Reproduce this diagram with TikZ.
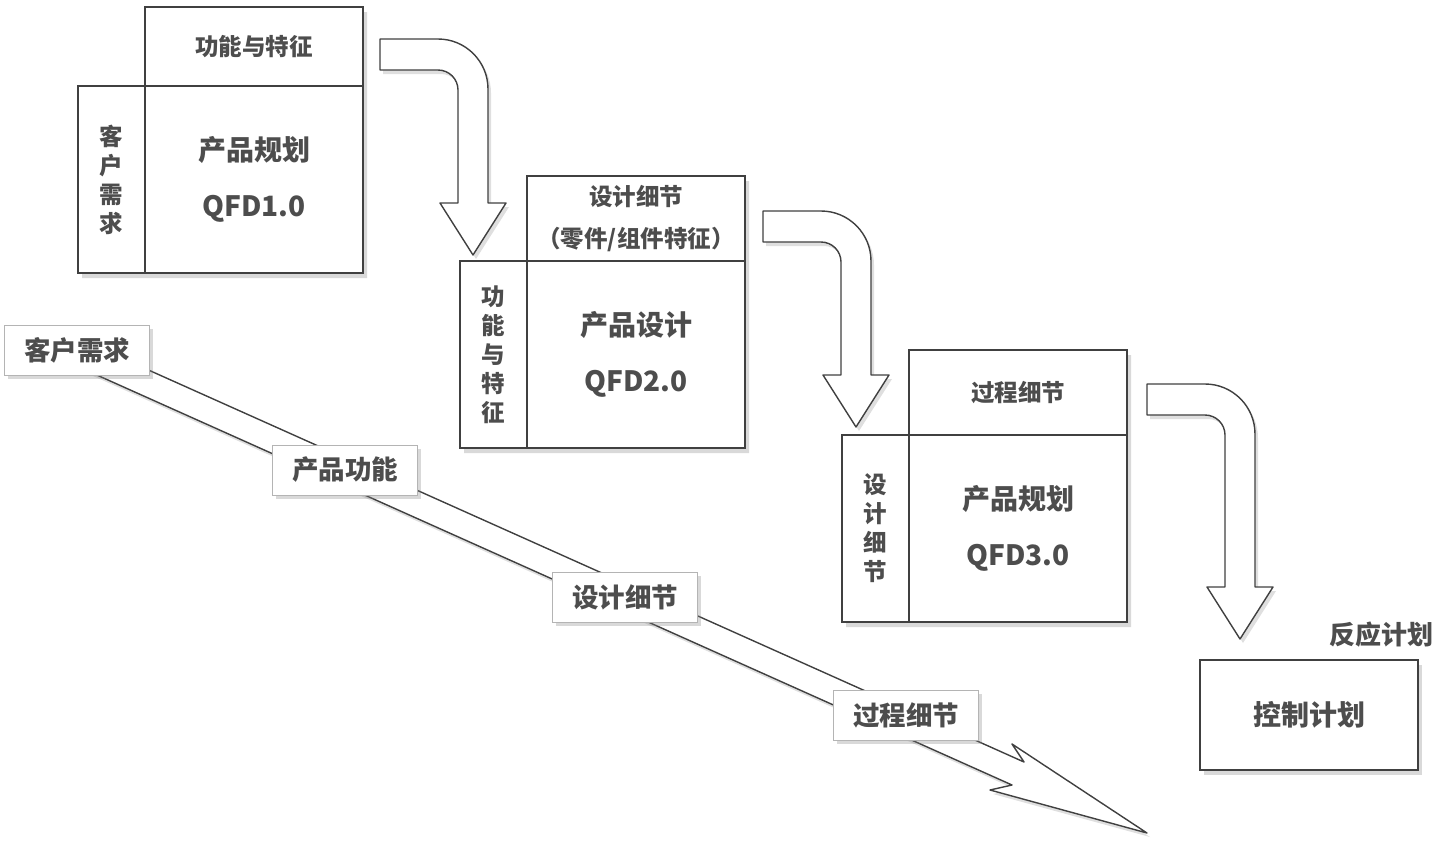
\documentclass[tikz,border=0pt]{standalone}
\usepackage{fontspec}
\setmainfont{Noto Sans CJK SC}
\usetikzlibrary{positioning, shadows, backgrounds}
\definecolor{linegray}{HTML}{404040}
\definecolor{textgray}{HTML}{4D4D4D}
\definecolor{tagline}{HTML}{B4B4B4}

% bent block arrow: left x, top y, shaft length
\newcommand\bendarrow[3]{%
  \draw[arrowshape] (#1,#2) -- ++(58,0) arc[start angle=-90, end angle=0, radius=50]
    -- ++(0,#3-50) -- ++(18,0) -- ++(-33,52) -- ++(-33,-52) -- ++(18,0)
    -- ++(0,-#3+51) arc[start angle=0, end angle=-90, radius=20] -- ++(-58,0) -- cycle;}

\begin{document}
\begin{tikzpicture}[
    x=1pt, y=-1pt,
    cell/.style={rectangle, draw=linegray, line width=1.7pt, fill=white, inner sep=0pt, outer sep=0pt,
                 align=center, text=textgray, font=\bfseries\fontsize{23.5}{29}\selectfont},
    core/.style={cell, minimum width=218, minimum height=187, font=\bfseries\fontsize{28}{56}\selectfont},
    side/.style={cell, minimum width=67, minimum height=187},
    head/.style={cell, minimum width=218, minimum height=85},
    tag/.style={rectangle, draw=tagline, line width=1pt, fill=white, minimum width=145, minimum height=50,
                text=textgray, font=\bfseries\fontsize{26.5}{30}\selectfont,
                drop shadow={shadow xshift=3pt, shadow yshift=-4pt, opacity=.3}},
    blockshade/.style={fill=white, drop shadow={shadow xshift=4pt, shadow yshift=-5pt, opacity=.3}},
    arrowshape/.style={draw=linegray, line width=1.4pt, fill=white, line join=round,
                 drop shadow={shadow xshift=3pt, shadow yshift=-4pt, opacity=.25}},
    label/.style={text=textgray, font=\bfseries\fontsize{26}{30}\selectfont}
]
\useasboundingbox (0,0) rectangle (1452,852);

% flow arrow under the tags
\draw[arrowshape] (60,330.4) -- (1024,762) -- (1012,744) -- (1147,833) -- (990,790) -- (1012,785) -- (60,358.5) -- cycle;

\node[tag] (tag1) at (77,350)  {客户需求};
\node[tag] (tag2) at (345,470) {产品功能};
\node[tag] (tag3) at (625,597) {设计细节};
\node[tag] (tag4) at (906,715) {过程细节};

% bent arrows between the houses
\bendarrow{380}{39}{164}
\bendarrow{763}{211}{164}
\bendarrow{1147}{384}{203}

% QFD 1.0
\node[core, anchor=north west] (core1) at (145,86) {产品规划\\QFD1.0};
\node[side, anchor=north east] (side1) at (core1.north west) {客\\户\\需\\求};
\node[head, minimum height=79, anchor=south west] (head1) at (core1.north west) {功能与特征};

% QFD 2.0
\node[core, anchor=north west] (core2) at (527,261) {产品设计\\QFD2.0};
\node[side, anchor=north east] (side2) at (core2.north west) {功\\能\\与\\特\\征};
\node[head, anchor=south west, font=\bfseries\fontsize{23.5}{42}\selectfont] (head2) at (core2.north west)
    {设计细节\\（零件/组件特征）};

% QFD 3.0
\node[core, anchor=north west] (core3) at (909,435) {产品规划\\QFD3.0};
\node[side, anchor=north east] (side3) at (core3.north west) {设\\计\\细\\节};
\node[head, anchor=south west] (head3) at (core3.north west) {过程细节};

% control plan
\node[cell, blockshade, minimum width=218, minimum height=110, anchor=north west,
      font=\bfseries\fontsize{28}{30}\selectfont] (ctrl) at (1200,660) {控制计划};
\node[label] (react) at (1381,635) {反应计划};

\begin{scope}[on background layer]
  \foreach \n in {1,2,3}
    \path[blockshade] (side\n.north west) -- (head\n.south west) -- (head\n.north west)
      -- (head\n.north east) -- (core\n.south east) -- (side\n.south west) -- cycle;
\end{scope}
\end{tikzpicture}
\end{document}
